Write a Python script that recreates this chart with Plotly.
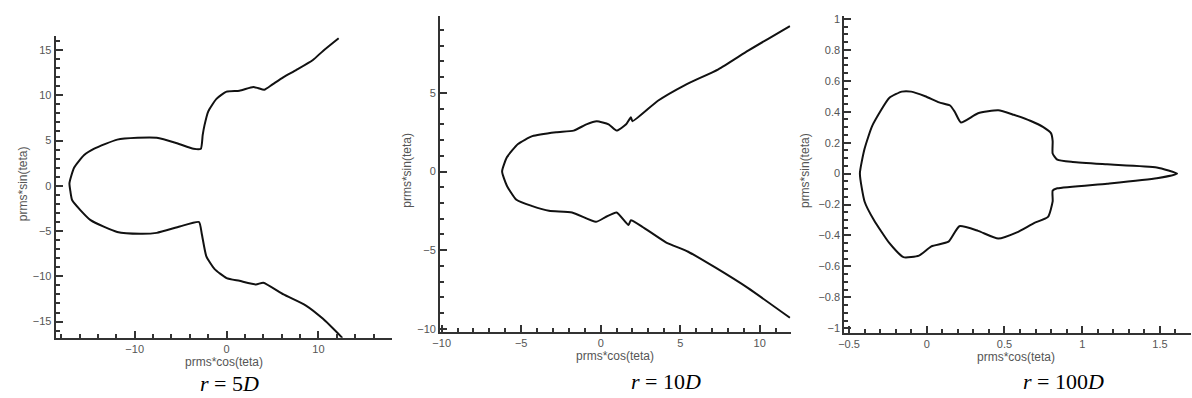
import plotly.graph_objects as go

# ---- Panel 1: r = 5D ----
x5 = [12.2, 10.5, 9.4, 7.6, 6.2, 5.0, 4.1, 3.4, 2.9, 1.4, 0.0, -1.1, -2.0, -2.4, -2.6, -2.8,
      -3.6, -5.4, -7.6, -9.7, -11.9, -14.4, -15.5, -16.6, -17.1,
      -17.0, -16.8, -14.8, -11.9, -9.4, -7.6, -5.1, -3.0, -2.7, -2.2, -1.3, 0.0, 1.4, 3.2, 4.0,
      6.2, 8.6, 10.5, 12.6]
y5 = [16.3, 14.9, 13.9, 12.8, 12.0, 11.2, 10.6, 10.8, 10.9, 10.5, 10.4, 9.6, 8.2, 6.7, 5.6, 4.1,
      4.1, 4.7, 5.3, 5.3, 5.1, 4.1, 3.4, 2.0, 0.3,
      -0.6, -1.6, -3.8, -5.1, -5.3, -5.2, -4.5, -4.0, -5.3, -7.8, -9.2, -10.2, -10.5, -10.9, -10.7,
      -12.0, -13.2, -14.7, -16.8]

# ---- Panel 2: r = 10D ----
x10 = [11.9, 9.3, 7.4, 5.3, 3.6, 2.0, 1.9, 1.6, 1.0, 0.5, -0.25, -0.9, -1.7, -2.8, -4.3, -5.2,
       -5.9, -6.2, -5.9, -5.3, -4.3, -3.25, -1.8, -0.3, 0.3, 1.0, 1.75, 1.9, 2.6, 4.1, 5.5, 7.2,
       9.25, 11.9]
y10 = [9.25, 7.7, 6.5, 5.5, 4.5, 3.2, 3.45, 3.0, 2.6, 3.0, 3.2, 3.0, 2.6, 2.5, 2.25, 1.75,
       0.9, 0.0, -0.9, -1.8, -2.2, -2.5, -2.6, -3.2, -2.9, -2.6, -3.4, -3.1, -3.5, -4.5, -5.1, -6.1,
       -7.4, -9.3]

# ---- Panel 3: r = 100D ----
x100 = [1.61, 1.48, 1.16, 0.94, 0.84, 0.81, 0.81, 0.80, 0.75, 0.67, 0.56, 0.46, 0.33, 0.22,
        0.18, 0.15, 0.08, -0.01, -0.10, -0.16, -0.24, -0.35, -0.40, -0.43, -0.40, -0.34, -0.24,
        -0.15, -0.05, 0.03, 0.14, 0.21, 0.33, 0.46, 0.58, 0.69, 0.78, 0.81, 0.81, 0.84, 1.16,
        1.48, 1.61]
y100 = [0.0, 0.04, 0.06, 0.075, 0.09, 0.13, 0.21, 0.26, 0.30, 0.34, 0.38, 0.41, 0.39, 0.33,
        0.40, 0.44, 0.46, 0.50, 0.53, 0.53, 0.49, 0.31, 0.16, 0.0, -0.18, -0.30, -0.45,
        -0.54, -0.53, -0.47, -0.44, -0.34, -0.37, -0.42, -0.38, -0.32, -0.28, -0.18, -0.11, -0.095,
        -0.065, -0.03, 0.0]

captions = ["<i>r</i> = 5<i>D</i>", "<i>r</i> = 10<i>D</i>", "<i>r</i> = 100<i>D</i>"]
xtitle = "prms*cos(teta)"
ytitle = "prms*sin(teta)"

W, H = 1192, 398

def px_x(p):
    return p / W

def px_y(p):
    return 1 - p / H

panels = [
    dict(x=x5, y=y5, dom_x=(48, 387), dom_y=(33, 340), xr=[-18.6, 18.05], yr=[-16.8, 16.6],
         xd=10, xm=2, yd=5, ym=1, cap=(223, 386), xt=(217, 364), yt=(15, 183)),
    dict(x=x10, y=y10, dom_x=(435, 788), dom_y=(13, 334), xr=[-10.1, 11.95], yr=[-10.2, 9.9],
         xd=5, xm=1, yd=5, ym=1, cap=(662, 384), xt=(611, 358), yt=(402, 170)),
    dict(x=x100, y=y100, dom_x=(842, 1191), dom_y=(13, 335), xr=[-0.53, 1.70], yr=[-1.03, 1.02],
         xd=0.5, xm=0.1, yd=0.2, ym=0.05, cap=(1063, 384), xt=(1015, 359), yt=(803, 170)),
]

fig = go.Figure()
annotations = []
tickfont = dict(family="Liberation Sans, Arial", size=11, color="#555555")
for i, p in enumerate(panels, start=1):
    xa = "x" if i == 1 else f"x{i}"
    ya = "y" if i == 1 else f"y{i}"
    fig.add_trace(go.Scatter(x=p["x"], y=p["y"], mode="lines", xaxis=xa, yaxis=ya,
                             line=dict(color="#111111", width=2, shape="spline", smoothing=0.5),
                             showlegend=False, hoverinfo="skip"))
    common = dict(showgrid=False, zeroline=False, showline=True, linecolor="#333333",
                  linewidth=2, ticks="inside", ticklen=7, tickwidth=2, tickcolor="#333333",
                  tickfont=tickfont, mirror=False)
    fig.layout[f"xaxis{i if i > 1 else ''}"] = dict(
        domain=[px_x(p["dom_x"][0]), px_x(p["dom_x"][1])], range=p["xr"], anchor=ya,
        dtick=p["xd"], tick0=0,
        minor=dict(ticks="inside", dtick=p["xm"], tick0=0, ticklen=4, tickwidth=1.5,
                   tickcolor="#333333", showgrid=False),
        **common)
    fig.layout[f"yaxis{i if i > 1 else ''}"] = dict(
        domain=[px_y(p["dom_y"][1]), px_y(p["dom_y"][0])], range=p["yr"], anchor=xa,
        dtick=p["yd"], tick0=0,
        minor=dict(ticks="inside", dtick=p["ym"], tick0=0, ticklen=4, tickwidth=1.5,
                   tickcolor="#333333", showgrid=False),
        **common)
    annotations.append(dict(text=captions[i - 1], x=px_x(p["cap"][0]), y=px_y(p["cap"][1]),
                            xref="paper", yref="paper", showarrow=False,
                            xanchor="center", yanchor="middle",
                            font=dict(family="Liberation Serif, Times New Roman", size=22,
                                      color="#000000")))
    annotations.append(dict(text=xtitle, x=px_x(p["xt"][0]), y=px_y(p["xt"][1]),
                            xref="paper", yref="paper", showarrow=False,
                            xanchor="center", yanchor="middle",
                            font=dict(family="Liberation Sans, Arial", size=12, color="#555555")))
    annotations.append(dict(text=ytitle, x=px_x(p["yt"][0]), y=px_y(p["yt"][1]),
                            xref="paper", yref="paper", showarrow=False, textangle=-90,
                            xanchor="center", yanchor="middle",
                            font=dict(family="Liberation Sans, Arial", size=12, color="#555555")))

fig.update_layout(width=W, height=H, margin=dict(l=0, r=0, t=0, b=0),
                  paper_bgcolor="white", plot_bgcolor="white", annotations=annotations)
fig.write_html("out.html")
